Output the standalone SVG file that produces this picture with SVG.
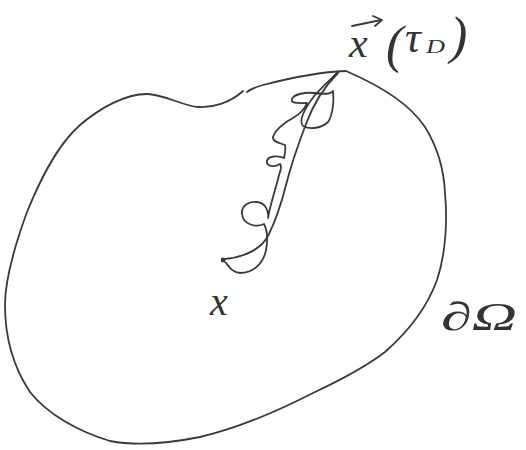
<svg xmlns="http://www.w3.org/2000/svg" width="526" height="450" viewBox="0 0 526 450">
<style>
.stroke{fill:none;stroke:#3a3a3a;stroke-width:1.8;stroke-linecap:round;stroke-linejoin:round}
.lbl{font-family:"Liberation Serif","DejaVu Serif",serif;font-style:italic;fill:#333}
</style>
<rect width="526" height="450" fill="#fff"/>
<g id="domain">
<path class="stroke" d="M243,91 C230,103 212,108 198,107 C183,106 163,94 147,94 C125,94 100,108 80,125 C55,147 38,185 27,212 C15,245 5,280 5,305 C5,335 12,365 30,392 C48,415 80,432 110,441 C135,446 165,444 200,437 C230,430 270,415 313,393 C345,378 368,365 385,352 C410,330 428,305 437,280 C447,250 447,215 445,193 C444,170 438,148 425,127 C410,105 385,88 346,71 C320,72 290,78 263,85 C256,87 251,89 247,92"/>
</g>
<g id="trajectory">
<circle cx="223" cy="260" r="2.4" fill="#3a3a3a"/>
<path class="stroke" d="M222,260 C228,262 229,272 240,273 C252,273 263,265 266,250 C268,240 267,230 264,224 C255,228 243,224 242,214 C241,205 250,201 257,202 C265,203 269,210 268,218 C270,205 276,188 279,175 C281,170 282,166 280,164 C274,168 266,166 267,161 C268,156 278,155 284,158 C285,153 286,149 285,145 C280,143 272,142 273,137 C275,130 285,122 293,118 C300,114 305,108 307,103 C300,103 290,104 292,99 C294,94 305,92 315,93 C322,94 330,95 333,91 C334,100 333,115 328,122 C322,128 310,130 303,126 C298,120 305,108 315,95 C323,86 332,78 338,72"/>
<path class="stroke" d="M338,73 C325,86 314,102 306,124 C298,145 291,165 286,185 C281,205 274,224 268,236 C261,249 245,257 225,259"/>
</g>
<g id="labels">
<line class="stroke" x1="352" y1="26" x2="381" y2="20"/>
<path class="stroke" d="M373,16 L382,20 L375,26"/>
<text class="lbl" x="349" y="57" font-size="42">x</text>
<text class="lbl" x="386" y="62" font-size="52" font-style="normal">(</text>
<text class="lbl" x="405" y="52" font-size="44">τ</text>
<text class="lbl" x="426" y="53" font-size="18" font-style="normal" textLength="19" lengthAdjust="spacingAndGlyphs">D</text>
<text class="lbl" x="450" y="53" font-size="52" font-style="normal">)</text>
<text class="lbl" x="210" y="315" font-size="40">x</text>
<text class="lbl" x="441" y="330" font-size="40" font-style="normal" textLength="76" lengthAdjust="spacingAndGlyphs">∂Ω</text>
</g>
</svg>
